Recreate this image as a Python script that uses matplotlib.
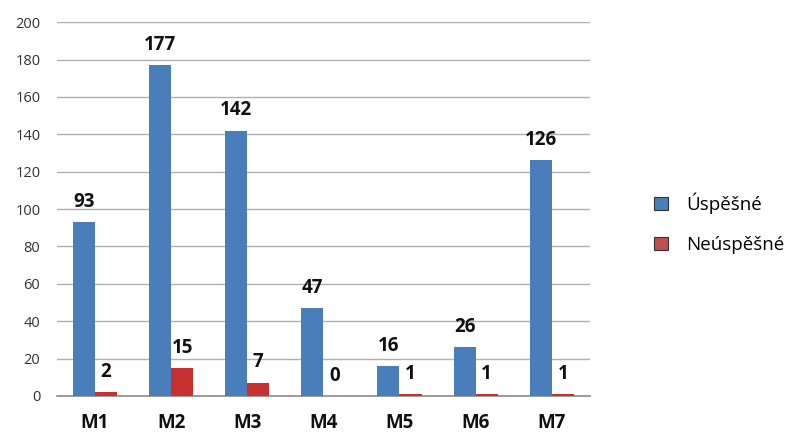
import matplotlib
matplotlib.use("Agg")
import matplotlib.pyplot as plt
import numpy as np
from matplotlib.patches import Patch

categories = ["M1", "M2", "M3", "M4", "M5", "M6", "M7"]
uspesne = [93, 177, 142, 47, 16, 26, 126]
neuspesne = [2, 15, 7, 0, 1, 1, 1]
series_names = ["Úspěšné", "Neúspěšné"]
yticks = [0, 20, 40, 60, 80, 100, 120, 140, 160, 180, 200]

plt.rcParams['font.family'] = ['Open Sans', 'DejaVu Sans']

fig = plt.figure(figsize=(7.97, 4.34), dpi=100)
ax = fig.add_axes([0.0715, 0.0876, 0.6685, 0.8614])

blue = "#4a7ebb"
x = np.arange(len(categories))
w = 0.29
ax.bar(x - w / 2, uspesne, w, color=blue, zorder=3)
ax.bar(x + w / 2, neuspesne, w, color="#c8312f", zorder=3)

for xi, v in zip(x - w / 2, uspesne):
    ax.annotate(str(v), (xi, v), xytext=(0, 7.5), textcoords="offset points",
                ha="center", va="bottom", fontsize=13.5, fontweight="bold", color="#111111")
for xi, v in zip(x + w / 2, neuspesne):
    ax.annotate(str(v), (xi, v), xytext=(0, 7.5), textcoords="offset points",
                ha="center", va="bottom", fontsize=13.5, fontweight="bold", color="#111111")

ax.set_xlim(-0.5, len(categories) - 0.5)
ax.set_ylim(0, 200)
ax.set_yticks(yticks)
ax.set_yticklabels([str(t) for t in yticks], fontsize=10.5, color="#333333")
ax.set_xticks(x)
ax.set_xticklabels(categories, fontsize=13.5, fontweight="bold", color="#111111")
ax.tick_params(axis="x", length=0, pad=12)
ax.tick_params(axis="y", length=0, pad=12)
ax.grid(axis="y", color="#b0b0b0", linewidth=1, zorder=0)
for s in ["top", "right", "left"]:
    ax.spines[s].set_visible(False)
ax.spines["bottom"].set_color("#8a8a8a")
ax.spines["bottom"].set_linewidth(1.2)

handles = [Patch(facecolor=blue, edgecolor="#333333", linewidth=0.8),
           Patch(facecolor="#c0504d", edgecolor="#333333", linewidth=0.8)]
fig.legend(handles, series_names, loc="center left", bbox_to_anchor=(0.80, 0.485),
           frameon=False, fontsize=13.5, handlelength=0.7, handleheight=0.7,
           labelspacing=1.15, handletextpad=1.0)

fig.savefig("out.png", dpi=100)
